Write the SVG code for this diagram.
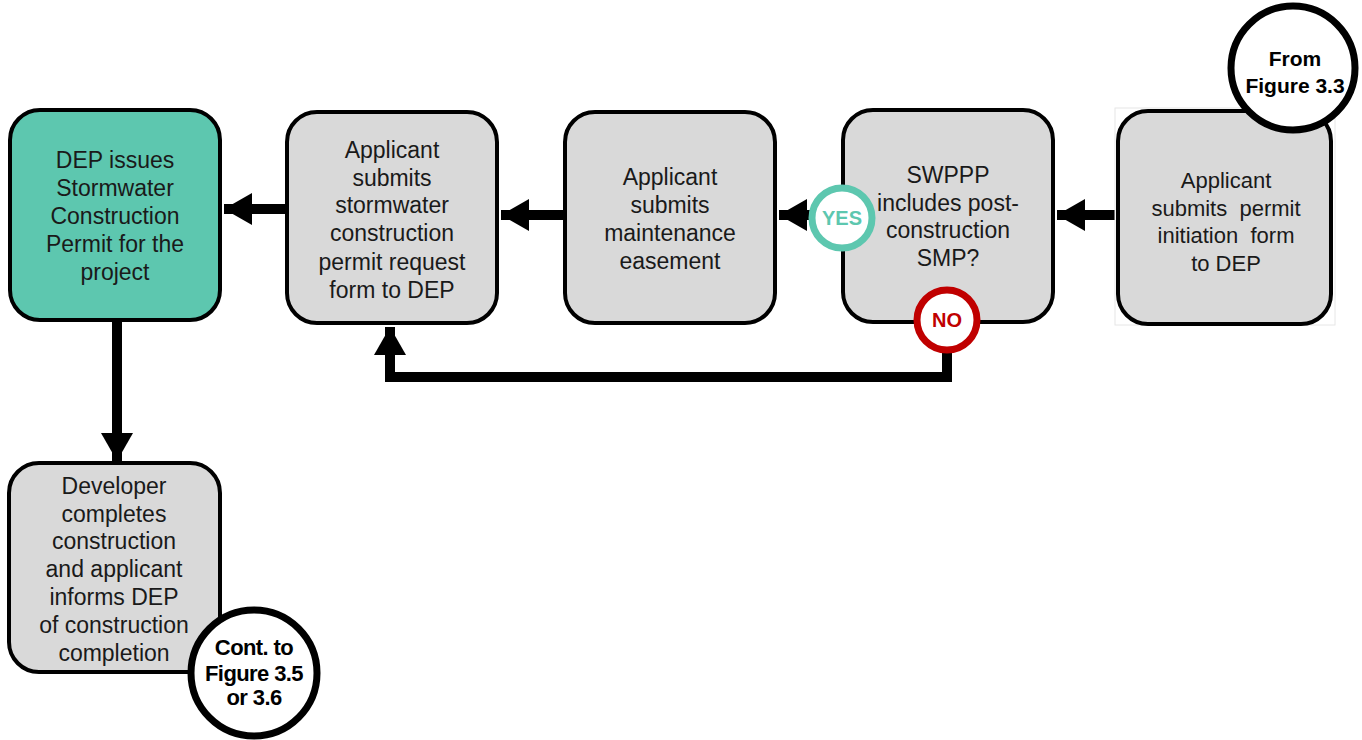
<svg xmlns="http://www.w3.org/2000/svg" width="1362" height="740" viewBox="0 0 1362 740">
<defs>
<style>
.box{fill:#D9D9D9;stroke:#000;stroke-width:4}
.teal{fill:#5DC7AF;stroke:#000;stroke-width:4}
.t{font-family:"Liberation Sans",Arial,sans-serif;font-size:23px;fill:#1a1a1a;text-anchor:middle}
.b{font-family:"Liberation Sans",Arial,sans-serif;font-size:21px;font-weight:bold;fill:#000;text-anchor:middle}
.conn{fill:none;stroke:#000;stroke-width:10}
</style>
<marker id="ah" markerUnits="userSpaceOnUse" markerWidth="30" markerHeight="32" refX="28" refY="16" orient="auto">
<path d="M0,0 L28,16 L0,32 Z" fill="#000"/>
</marker>
</defs>
<rect width="1362" height="740" fill="#fff"/>
<g id="connectors">
<line class="conn" x1="1118" y1="215" x2="1057" y2="215" marker-end="url(#ah)"/>
<line class="conn" x1="815" y1="215" x2="779" y2="215" marker-end="url(#ah)"/>
<line class="conn" x1="565" y1="215" x2="501" y2="215" marker-end="url(#ah)"/>
<line class="conn" x1="287" y1="209" x2="224" y2="209" marker-end="url(#ah)"/>
<line class="conn" x1="117" y1="322" x2="117" y2="461" marker-end="url(#ah)"/>
<polyline class="conn" points="947,350 947,377 390,377 390,327" marker-end="url(#ah)"/>
</g>
<g id="n1">
<rect class="teal" x="10" y="110" width="210" height="210" rx="30"/>
<text class="t"><tspan x="115" y="168">DEP issues</tspan><tspan x="115" y="196">Stormwater</tspan><tspan x="115" y="224">Construction</tspan><tspan x="115" y="252">Permit for the</tspan><tspan x="115" y="280">project</tspan></text>
</g>
<g id="n2">
<rect class="box" x="287" y="112" width="210" height="211" rx="30"/>
<text class="t"><tspan x="392" y="158">Applicant</tspan><tspan x="392" y="186">submits</tspan><tspan x="392" y="213">stormwater</tspan><tspan x="392" y="241">construction</tspan><tspan x="392" y="270">permit request</tspan><tspan x="392" y="298">form to DEP</tspan></text>
</g>
<g id="n3">
<rect class="box" x="565" y="112" width="210" height="211" rx="30"/>
<text class="t"><tspan x="670" y="185">Applicant</tspan><tspan x="670" y="213">submits</tspan><tspan x="670" y="241">maintenance</tspan><tspan x="670" y="269">easement</tspan></text>
</g>
<g id="n4">
<rect class="box" x="843" y="110" width="210" height="212" rx="30"/>
<text class="t"><tspan x="948" y="183">SWPPP</tspan><tspan x="948" y="211">includes post-</tspan><tspan x="948" y="238">construction</tspan><tspan x="948" y="266">SMP?</tspan></text>
</g>
<g id="n5">
<rect x="1115" y="108" width="220" height="217" fill="#fff" stroke="#e6e6e6" stroke-width="1"/>
<rect class="box" x="1118" y="111" width="213" height="213" rx="30"/>
<text class="t" style="font-size:22px" xml:space="preserve"><tspan x="1226" y="188">Applicant</tspan><tspan x="1226" y="216">submits  permit</tspan><tspan x="1226" y="243">initiation  form</tspan><tspan x="1226" y="271">to DEP</tspan></text>
</g>
<g id="n6">
<rect class="box" x="9" y="463" width="211" height="209" rx="30"/>
<text class="t"><tspan x="114" y="494">Developer</tspan><tspan x="114" y="522">completes</tspan><tspan x="114" y="549">construction</tspan><tspan x="114" y="577">and applicant</tspan><tspan x="114" y="605">informs DEP</tspan><tspan x="114" y="633">of construction</tspan><tspan x="114" y="661">completion</tspan></text>
</g>
<g id="yes">
<circle cx="842" cy="218" r="30" fill="#fff" stroke="#5DC7AF" stroke-width="7"/>
<text class="b" x="842" y="225" style="fill:#5DC7AF;font-size:20px">YES</text>
</g>
<g id="no">
<circle cx="947" cy="320" r="30" fill="#fff" stroke="#C00000" stroke-width="7"/>
<text class="b" x="947" y="327" style="fill:#C00000;font-size:20px">NO</text>
</g>
<g id="from">
<circle cx="1293" cy="68" r="62" fill="#fff" stroke="#000" stroke-width="7"/>
<text class="b"><tspan x="1295" y="66">From</tspan><tspan x="1295" y="93">Figure 3.3</tspan></text>
</g>
<g id="cont">
<circle cx="254" cy="673" r="63" fill="#fff" stroke="#000" stroke-width="7"/>
<text class="b" style="font-size:22px;letter-spacing:-0.6px"><tspan x="254" y="655">Cont. to</tspan><tspan x="254" y="681">Figure 3.5</tspan><tspan x="254" y="705">or 3.6</tspan></text>
</g>
</svg>
